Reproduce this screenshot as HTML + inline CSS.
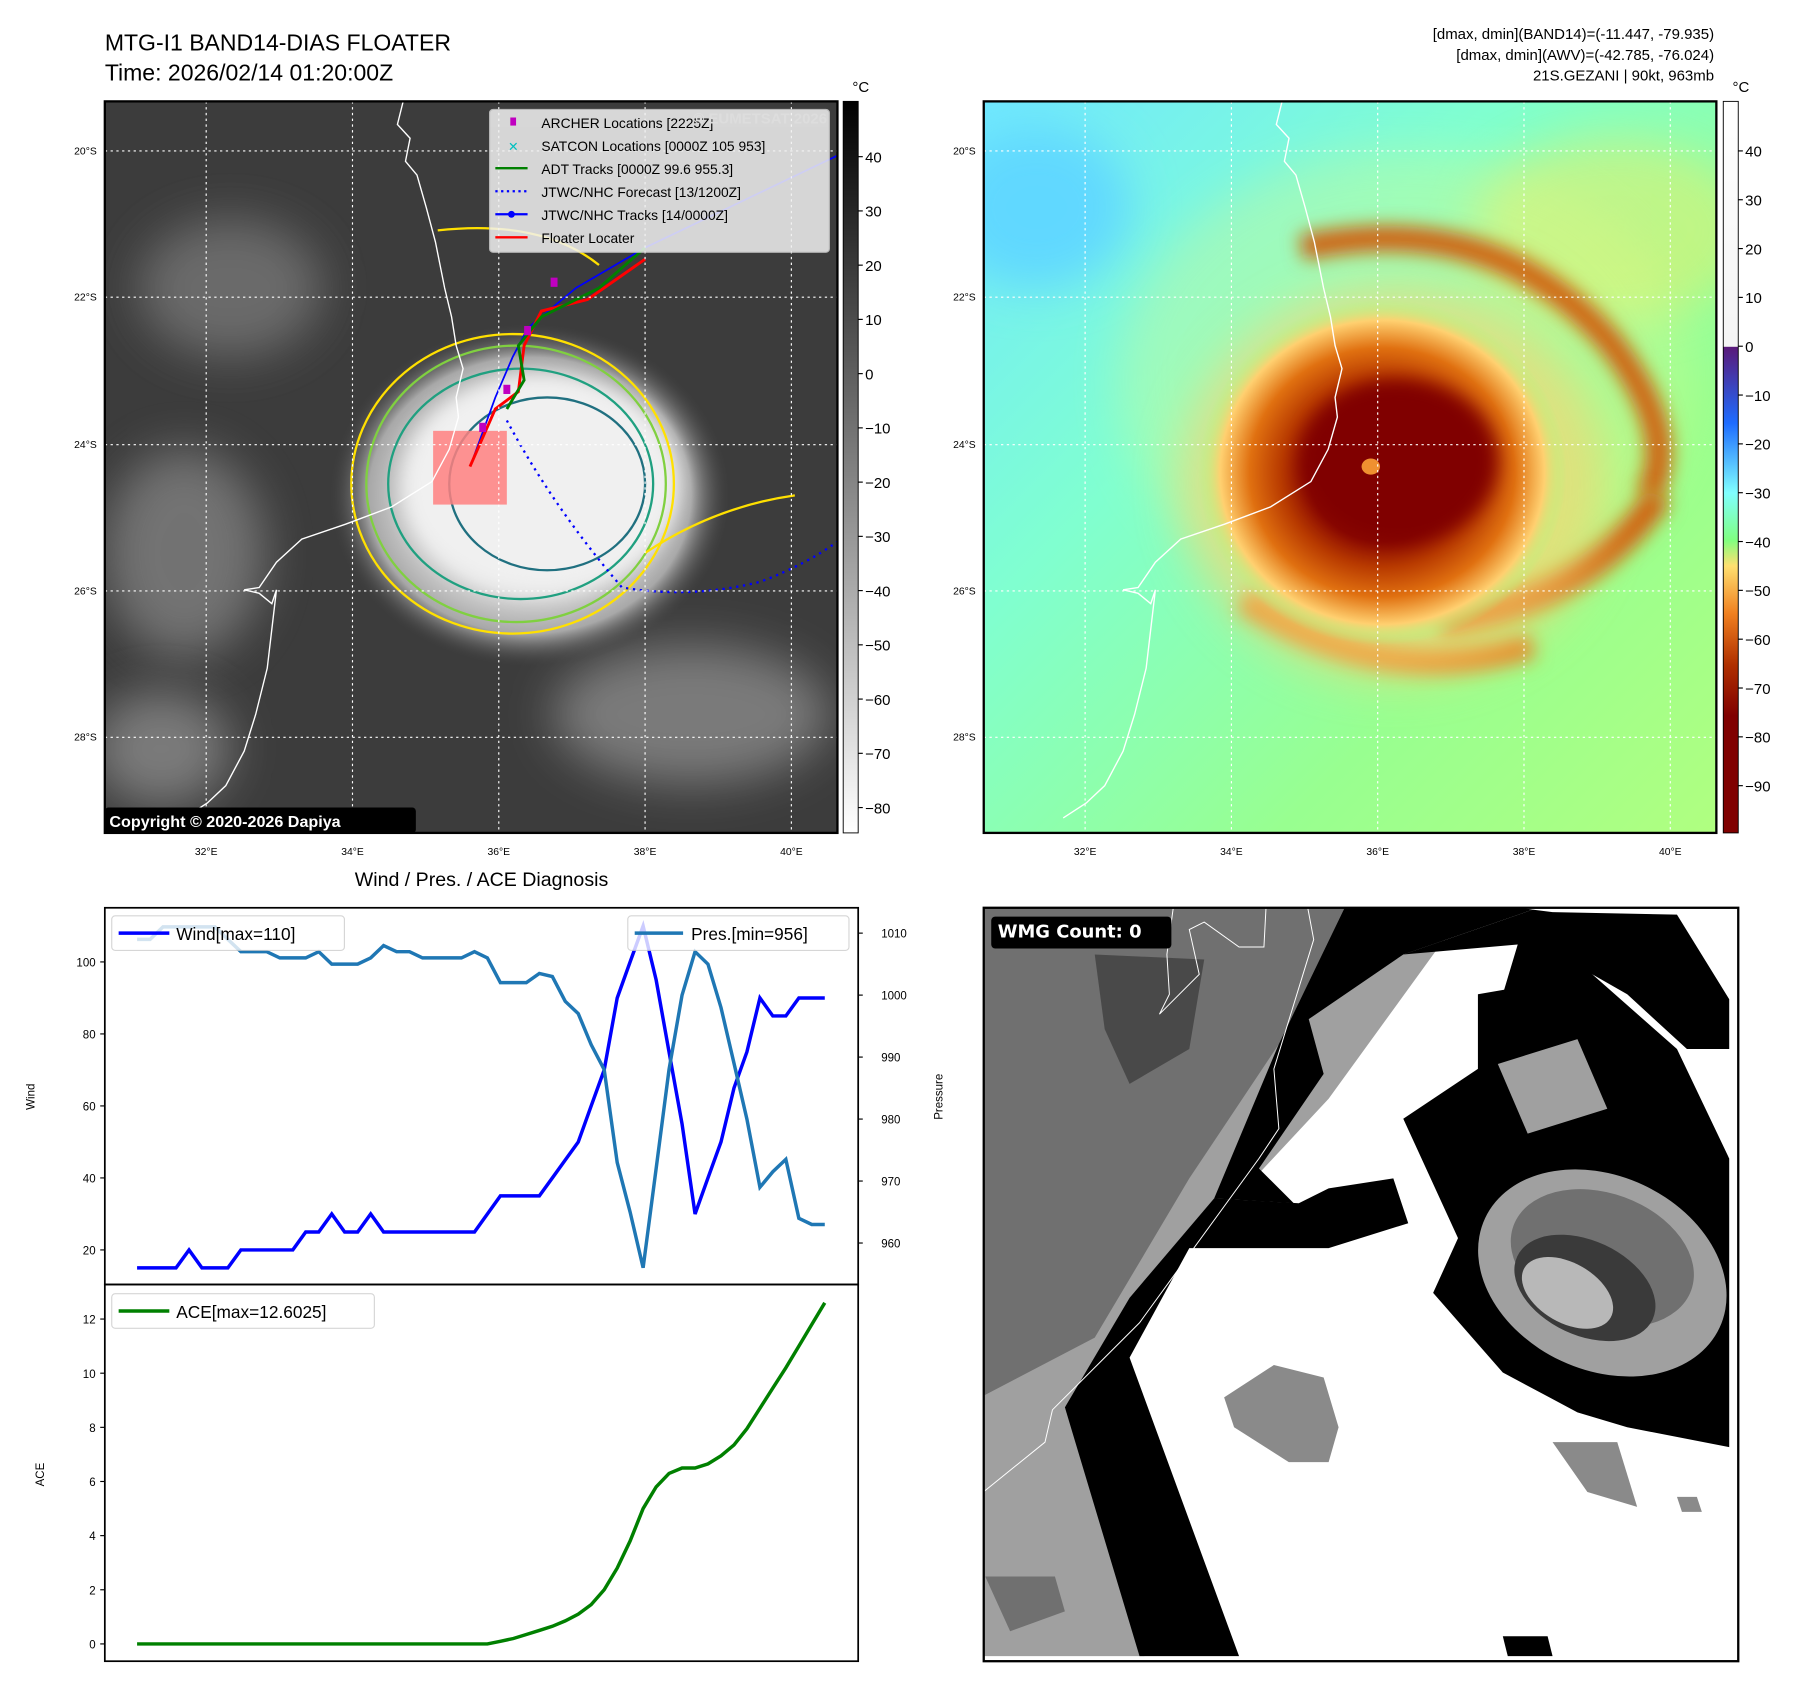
<!DOCTYPE html>
<html><head><meta charset="utf-8"><style>
html,body{margin:0;padding:0;background:#fff;}
svg{display:block;font-family:"Liberation Sans","DejaVu Sans",sans-serif;}
</style></head><body>
<svg id="root" width="1797" height="1690" viewBox="0 0 1560 1467" preserveAspectRatio="none" xmlns="http://www.w3.org/2000/svg">
<defs>
<filter id="blur8" x="-50%" y="-50%" width="200%" height="200%"><feGaussianBlur stdDeviation="8"/></filter>
<filter id="blur20" x="-50%" y="-50%" width="200%" height="200%"><feGaussianBlur stdDeviation="20"/></filter>
<clipPath id="c1"><rect x="91" y="88" width="636" height="635"/></clipPath>
<clipPath id="c2"><rect x="854" y="88" width="636" height="635"/></clipPath>
<clipPath id="c4"><rect x="854" y="788" width="655" height="654"/></clipPath>
<linearGradient id="cb1" x1="0" y1="0" x2="0" y2="1"><stop offset="0" stop-color="#000"/><stop offset="1" stop-color="#fff"/></linearGradient>
<linearGradient id="cb2" x1="0" y1="0" x2="0" y2="1">
<stop offset="0" stop-color="#fff"/><stop offset="0.335" stop-color="#f4f4f4"/>
<stop offset="0.336" stop-color="#5a1a7a"/><stop offset="0.44" stop-color="#1e6cff"/>
<stop offset="0.535" stop-color="#80ffff"/><stop offset="0.6" stop-color="#80ff80"/>
<stop offset="0.635" stop-color="#ffe070"/><stop offset="0.7" stop-color="#f08020"/>
<stop offset="0.77" stop-color="#b03000"/><stop offset="0.84" stop-color="#800000"/><stop offset="1" stop-color="#800000"/>
</linearGradient>
<radialGradient id="storm2" cx="0.5" cy="0.5" r="0.5">
<stop offset="0" stop-color="#800000"/><stop offset="0.4" stop-color="#8a0800"/>
<stop offset="0.55" stop-color="#b83a00"/><stop offset="0.72" stop-color="#e07010"/>
<stop offset="0.88" stop-color="#ffd070"/><stop offset="1" stop-color="#a0ff80" stop-opacity="0"/>
</radialGradient>
<radialGradient id="storm1" cx="0.5" cy="0.5" r="0.5">
<stop offset="0" stop-color="#f4f4f4"/><stop offset="0.55" stop-color="#dedede"/>
<stop offset="0.8" stop-color="#a8a8a8"/><stop offset="1" stop-color="#3c3c3c" stop-opacity="0"/>
</radialGradient>
<linearGradient id="bg2" x1="0" y1="0" x2="1" y2="1">
<stop offset="0" stop-color="#70e8ff"/><stop offset="0.35" stop-color="#80ffd0"/><stop offset="0.7" stop-color="#98ff90"/><stop offset="1" stop-color="#b0ff80"/>
</linearGradient>
</defs>

<text x="91" y="44" font-size="20">MTG-I1 BAND14-DIAS FLOATER</text>
<text x="91" y="70" font-size="20">Time: 2026/02/14 01:20:00Z</text>
<g font-size="13" text-anchor="end">
<text x="1488" y="34">[dmax, dmin](BAND14)=(-11.447, -79.935)</text>
<text x="1488" y="52">[dmax, dmin](AWV)=(-42.785, -76.024)</text>
<text x="1488" y="70">21S.GEZANI | 90kt, 963mb</text>
</g>

<!-- Panel 1: IR -->
<g clip-path="url(#c1)">
<rect x="91" y="88" width="636" height="635" fill="#3c3c3c"/>
<ellipse cx="160" cy="480" rx="70" ry="90" fill="#8a8a8a" filter="url(#blur20)" opacity="0.7"/>
<ellipse cx="200" cy="250" rx="80" ry="60" fill="#6a6a6a" filter="url(#blur20)"/>
<ellipse cx="600" cy="620" rx="120" ry="60" fill="#7a7a7a" filter="url(#blur20)"/>
<ellipse cx="140" cy="650" rx="60" ry="50" fill="#7a7a7a" filter="url(#blur20)"/>
<ellipse cx="460" cy="430" rx="175" ry="150" fill="url(#storm1)"/>
<ellipse cx="470" cy="420" rx="120" ry="95" fill="#f0f0f0" filter="url(#blur8)"/>
<g fill="none" stroke-width="2">
<ellipse cx="445" cy="420" rx="140" ry="130" stroke="#ffe000"/>
<ellipse cx="448" cy="420" rx="130" ry="120" stroke="#80d040"/>
<ellipse cx="452" cy="420" rx="115" ry="100" stroke="#20a080"/>
<ellipse cx="475" cy="420" rx="85" ry="75" stroke="#207080"/>
<path d="M560,480 Q620,440 690,430" stroke="#ffe000"/>
<path d="M380,200 Q470,190 520,230" stroke="#ffe000"/>
</g>
<rect x="376" y="374" width="64" height="64" fill="#ff8080" opacity="0.85"/>
<path d="M440,365 Q480,440 540,510 Q600,520 660,505 Q700,490 727,470" fill="none" stroke="#0000ff" stroke-width="2" stroke-dasharray="2,4"/>
<polyline points="410,400 430,345 445,310 458,285 500,250 560,215 727,135" fill="none" stroke="#0000ff" stroke-width="1.5"/>
<polyline points="408,405 430,355 450,340 455,300 470,270 510,260 560,225" fill="none" stroke="#ff0000" stroke-width="2.5"/>
<polyline points="440,355 455,330 450,300 470,275 520,250 560,215" fill="none" stroke="#008000" stroke-width="2.5"/>
<g fill="#c000c0"><rect x="416" y="367" width="6" height="8"/><rect x="437" y="334" width="6" height="8"/><rect x="478" y="241" width="6" height="8"/><rect x="455" y="283" width="6" height="8"/></g>
<g stroke="#fff" stroke-width="1" stroke-dasharray="2,3">
<line x1="179" y1="88" x2="179" y2="723"/><line x1="306" y1="88" x2="306" y2="723"/><line x1="433" y1="88" x2="433" y2="723"/><line x1="560" y1="88" x2="560" y2="723"/><line x1="687" y1="88" x2="687" y2="723"/>
<line x1="91" y1="131" x2="727" y2="131"/><line x1="91" y1="258" x2="727" y2="258"/><line x1="91" y1="386" x2="727" y2="386"/><line x1="91" y1="513" x2="727" y2="513"/><line x1="91" y1="640" x2="727" y2="640"/>
</g>
<polyline id="coast1" points="350,88 345,108 356,120 352,140 362,152 370,180 378,210 386,250 392,275 396,300 402,320 396,345 398,362 390,390 375,418 340,440 300,455 262,468 240,488 225,510 212,512 225,515 236,524 240,512 232,580 222,620 212,652 196,682 180,697 160,710" fill="none" stroke="#fff" stroke-width="1.2"/>
<rect x="425" y="95" width="295" height="124" fill="#f2f2f2" opacity="0.85" stroke="#ccc" rx="3"/>
<g font-size="12">
<rect x="443" y="102" width="5" height="7" fill="#c000c0"/><text x="470" y="111">ARCHER Locations [2225Z]</text>
<text x="441" y="131" fill="#00c0c0" font-size="11">✕</text><text x="470" y="131">SATCON Locations [0000Z 105 953]</text>
<line x1="430" y1="146" x2="458" y2="146" stroke="#008000" stroke-width="2"/><text x="470" y="151">ADT Tracks [0000Z 99.6 955.3]</text>
<line x1="430" y1="166" x2="458" y2="166" stroke="#0000ff" stroke-width="2" stroke-dasharray="2,3"/><text x="470" y="171">JTWC/NHC Forecast [13/1200Z]</text>
<line x1="430" y1="186" x2="458" y2="186" stroke="#0000ff" stroke-width="2"/><circle cx="444" cy="186" r="3" fill="#0000ff"/><text x="470" y="191">JTWC/NHC Tracks [14/0000Z]</text>
<line x1="430" y1="206" x2="458" y2="206" stroke="#ff0000" stroke-width="2"/><text x="470" y="211">Floater Locater</text>
</g>
<text x="718" y="107" font-size="13" fill="#ddd" text-anchor="end" font-weight="bold">© EUMETSAT 2026</text>
<rect x="91" y="701" width="270" height="22" fill="#000" rx="3"/>
<text x="95" y="718" font-size="14" fill="#fff" font-weight="bold">Copyright © 2020-2026 Dapiya</text>
</g>
<rect x="91" y="88" width="636" height="635" fill="none" stroke="#000" stroke-width="2"/>

<!-- Panel 2: AWV -->
<g clip-path="url(#c2)">
<rect x="854" y="88" width="636" height="635" fill="url(#bg2)"/>
<ellipse cx="900" cy="180" rx="80" ry="70" fill="#60d8ff" filter="url(#blur20)"/>
<ellipse cx="1400" cy="200" rx="120" ry="80" fill="#e0f070" filter="url(#blur20)" opacity="0.6"/>
<ellipse cx="1220" cy="330" rx="250" ry="200" fill="#e8f880" filter="url(#blur20)" opacity="0.3"/>
<path d="M1130,215 Q1300,180 1400,300 Q1460,380 1430,430" fill="none" stroke="#d06010" stroke-width="22" filter="url(#blur8)"/>
<path d="M1250,540 Q1380,520 1440,430" fill="none" stroke="#d06010" stroke-width="24" filter="url(#blur8)"/>
<path d="M1080,520 Q1200,600 1330,560" fill="none" stroke="#e08020" stroke-width="22" filter="url(#blur8)"/>
<ellipse cx="1210" cy="420" rx="185" ry="170" fill="#ffd070" filter="url(#blur20)" opacity="0.6"/>
<ellipse cx="1200" cy="410" rx="160" ry="150" fill="url(#storm2)"/>
<ellipse cx="1215" cy="400" rx="85" ry="70" fill="#800000" filter="url(#blur8)"/>
<ellipse cx="1190" cy="405" rx="8" ry="7" fill="#f09030"/>
<g stroke="#fff" stroke-width="1" stroke-dasharray="2,3">
<line x1="942" y1="88" x2="942" y2="723"/><line x1="1069" y1="88" x2="1069" y2="723"/><line x1="1196" y1="88" x2="1196" y2="723"/><line x1="1323" y1="88" x2="1323" y2="723"/><line x1="1450" y1="88" x2="1450" y2="723"/>
<line x1="854" y1="131" x2="1490" y2="131"/><line x1="854" y1="258" x2="1490" y2="258"/><line x1="854" y1="386" x2="1490" y2="386"/><line x1="854" y1="513" x2="1490" y2="513"/><line x1="854" y1="640" x2="1490" y2="640"/>
</g>
<use href="#coast1" transform="translate(763,0)"/>
</g>
<rect x="854" y="88" width="636" height="635" fill="none" stroke="#000" stroke-width="2"/>

<rect x="732" y="88" width="13" height="635" fill="url(#cb1)" stroke="#000" stroke-width="0.8"/>
<rect x="1496" y="88" width="13" height="635" fill="url(#cb2)" stroke="#000" stroke-width="0.8"/>
<text x="740" y="80" font-size="13">°C</text>
<text x="1504" y="80" font-size="13">°C</text>
<g id="cbticks" font-size="13"></g>
<g id="maplabels" font-size="9"></g>

<text x="418" y="769" font-size="17" text-anchor="middle">Wind / Pres. / ACE Diagnosis</text>
<g id="chart"></g>

<!-- Panel 4: WMG -->
<g clip-path="url(#c4)">
<g transform="translate(851,781) scale(0.432)">
<rect x="0" y="0" width="1520" height="1520" fill="#fff"/>
<polygon points="0,0 990,0 700,400 420,700 170,1020 330,1520 0,1520" fill="#a0a0a0"/>
<polygon points="0,0 740,0 600,290 420,560 230,880 0,1000" fill="#707070"/>
<polygon points="230,110 450,120 420,300 300,370 250,260" fill="#404040" opacity="0.8"/>
<polygon points="990,0 1110,20 850,110 660,240 690,350 560,540 630,610 470,600 600,290 740,0" fill="#000"/>
<polygon points="470,600 640,610 700,580 830,560 860,650 700,700 420,700 300,920 520,1520 320,1520 170,1020 300,800" fill="#000"/>
<polygon points="1150,25 1400,30 1505,200 1505,300 1420,300 1300,190 1230,150 1160,180 1050,190 1080,90 850,110 1110,20" fill="#000"/>
<polygon points="1000,190 1230,150 1400,300 1505,520 1505,1100 1300,1060 1200,1030 1050,950 910,790 960,680 850,440 1000,340" fill="#000"/>
<polygon points="1420,300 1505,300 1505,520" fill="#fff"/>
<polygon points="1040,330 1200,280 1260,420 1100,470" fill="#a0a0a0"/>
<ellipse cx="1250" cy="750" rx="260" ry="195" fill="#a0a0a0" transform="rotate(25 1250 750)"/>
<ellipse cx="1250" cy="720" rx="190" ry="130" fill="#707070" transform="rotate(20 1250 720)"/>
<ellipse cx="1215" cy="780" rx="150" ry="95" fill="#3a3a3a" transform="rotate(25 1215 780)"/>
<ellipse cx="1180" cy="790" rx="100" ry="60" fill="#b8b8b8" transform="rotate(30 1180 790)"/>
<polygon points="490,1000 590,935 690,960 720,1060 700,1130 620,1130 510,1060" fill="#8a8a8a"/>
<polygon points="1150,1090 1280,1090 1320,1220 1220,1190" fill="#8a8a8a"/>
<polygon points="1400,1200 1440,1200 1450,1230 1410,1230" fill="#8a8a8a"/>
<polygon points="1050,1480 1140,1480 1150,1520 1060,1520" fill="#000"/>
<polygon points="10,1360 150,1360 170,1430 60,1470" fill="#707070"/>
<polyline points="0,1195 130,1090 145,1025 320,850 560,520 600,460 590,340 670,80 655,0" fill="none" stroke="#fff" stroke-width="2"/>
<polyline points="390,0 375,110 380,190 360,230 440,150 420,60 450,45 520,95 570,95 575,0" fill="none" stroke="#fff" stroke-width="2"/>
<rect x="22" y="34" width="362" height="64" rx="8" fill="#000"/>
<text x="35" y="76" font-size="36" font-weight="bold" fill="#fff" font-family="DejaVu Sans, sans-serif">WMG Count: 0</text>
</g>
</g>
<rect x="854" y="788" width="655" height="654" fill="none" stroke="#000" stroke-width="2"/>

<script>
const windVals=[15,15,15,15,20,15,15,15,20,20,20,20,20,25,25,30,25,25,30,25,25,25,25,25,25,25,25,30,35,35,35,35,40,45,50,60,70,90,100,110,95,75,55,30,40,50,65,75,90,85,85,90,90,90];
const presVals=[1009,1009,1011,1011,1011,1011,1011,1009,1007,1007,1007,1006,1006,1006,1007,1005,1005,1005,1006,1008,1007,1007,1006,1006,1006,1006,1007,1006,1002,1002,1002,1003.5,1003,999,997,992,988,973,965,956,972,988,1000,1007,1005,998,989,980,969,971.5,973.5,964,963,963];
const aceVals=[0,0,0,0,0,0,0,0,0,0,0,0,0,0,0,0,0,0,0,0,0,0,0,0,0,0,0,0,0.1,0.2,0.35,0.5,0.65,0.85,1.1,1.45,2.0,2.8,3.8,5.0,5.8,6.3,6.5,6.5,6.65,6.95,7.35,7.95,8.7,9.45,10.2,11.0,11.8,12.6];
const windTicks=[20,40,60,80,100];
const presTicks=[960,970,980,990,1000,1010];
const aceTicks=[0,2,4,6,8,10,12];
const ir_ticks=[40,30,20,10,0,-10,-20,-30,-40,-50,-60,-70,-80];
const awv_ticks=[40,30,20,10,0,-10,-20,-30,-40,-50,-60,-70,-80,-90];
const latLabels=["20°S","22°S","24°S","26°S","28°S"];
const lonLabels=["32°E","34°E","36°E","38°E","40°E"];

const NS="http://www.w3.org/2000/svg";
function mk(tag,attrs,parent,txt){const e=document.createElementNS(NS,tag);for(const k in attrs)e.setAttribute(k,attrs[k]);if(txt!==undefined)e.textContent=txt;parent.appendChild(e);return e;}
const chart=document.getElementById('chart');
const X0=91,X1=745,WT=788,WB=1115,AB=1442;
const xIdx=i=>119+i*(716-119)/(windVals.length-1);
const yWind=v=>1085-(v-20)*(1085-835)/80;
const yPres=v=>1079-(v-960)*(1079-810)/50;
const yAce=v=>1427-v*(1427-1145)/12;

function axisTicksLeft(ticks,fn,fmt){ticks.forEach(t=>{const y=fn(t);mk('line',{x1:X0-4,y1:y,x2:X0,y2:y,stroke:'#000'},chart);const tx=mk('text',{x:X0-8,y:y+4,'font-size':10,'text-anchor':'end'},chart,fmt(t));});}
axisTicksLeft(windTicks,yWind,t=>t);
axisTicksLeft(aceTicks,yAce,t=>t);
presTicks.forEach(t=>{const y=yPres(t);mk('line',{x1:X1,y1:y,x2:X1+4,y2:y,stroke:'#000'},chart);const tx=mk('text',{x:X1+20,y:y+4,'font-size':10},chart,t);});
let t1=mk('text',{x:30,y:952,'font-size':10,'text-anchor':'middle',transform:'rotate(-90 30 952)'},chart,'Wind');


let t2=mk('text',{x:818,y:952,'font-size':10,'text-anchor':'middle',transform:'rotate(-90 818 952)'},chart,'Pressure');


let t3=mk('text',{x:38,y:1280,'font-size':10,'text-anchor':'middle',transform:'rotate(-90 38 1280)'},chart,'ACE');



function linePath(vals,fy){return vals.map((v,i)=>(i?'L':'M')+xIdx(i).toFixed(1)+','+fy(v).toFixed(1)).join(' ');}
let pw=mk('path',{d:linePath(windVals,yWind),fill:'none',stroke:'#0000ff','stroke-width':3},chart);


let pp=mk('path',{d:linePath(presVals,yPres),fill:'none',stroke:'#1f77b4','stroke-width':3},chart);


let pa=mk('path',{d:linePath(aceVals,yAce),fill:'none',stroke:'#008000','stroke-width':3},chart);


mk('rect',{x:X0,y:WT,width:X1-X0,height:WB-WT,fill:'none',stroke:'#000','stroke-width':1.5},chart);
mk('rect',{x:X0,y:WB,width:X1-X0,height:AB-WB,fill:'none',stroke:'#000','stroke-width':1.5},chart);
let lg1=mk('rect',{x:97,y:795,width:202,height:30,fill:'#fff',opacity:0.8,stroke:'#ccc',rx:3},chart);


mk('line',{x1:103,y1:810,x2:147,y2:810,stroke:'#0000ff','stroke-width':3},chart);
mk('text',{x:153,y:816,'font-size':15},chart,'Wind[max='+Math.max(...windVals)+']');
let lg2=mk('rect',{x:545,y:795,width:192,height:30,fill:'#fff',opacity:0.8,stroke:'#ccc',rx:3},chart);


mk('line',{x1:551,y1:810,x2:593,y2:810,stroke:'#1f77b4','stroke-width':3},chart);
mk('text',{x:600,y:816,'font-size':15},chart,'Pres.[min='+Math.min(...presVals)+']');
let lg3=mk('rect',{x:97,y:1123,width:228,height:30,fill:'#fff',opacity:0.8,stroke:'#ccc',rx:3},chart);


mk('line',{x1:103,y1:1138,x2:147,y2:1138,stroke:'#008000','stroke-width':3},chart);
mk('text',{x:153,y:1144,'font-size':15},chart,'ACE[max=12.6025]');

const cbg=document.getElementById('cbticks');
ir_ticks.forEach(t=>{const y=136+(40-t)*(701-136)/120;mk('line',{x1:745,y1:y,x2:749,y2:y,stroke:'#000'},cbg);const tx=mk('text',{x:751,y:y+5},cbg,t<0?'−'+(-t):t);});
awv_ticks.forEach(t=>{const y=131+(40-t)*(682-131)/130;mk('line',{x1:1509,y1:y,x2:1513,y2:y,stroke:'#000'},cbg);const tx=mk('text',{x:1515,y:y+5},cbg,t<0?'−'+(-t):t);});
const ml=document.getElementById('maplabels');
const latY=[131,258,386,513,640],lonX=[179,306,433,560,687];
[0,763].forEach(off=>{
latLabels.forEach((s,i)=>{const tx=mk('text',{x:off+84,y:latY[i]+3,'text-anchor':'end'},ml,s);});
lonLabels.forEach((s,i)=>{const tx=mk('text',{x:off+lonX[i],y:742,'text-anchor':'middle'},ml,s);});
});
</script>
</svg>
</body></html>
